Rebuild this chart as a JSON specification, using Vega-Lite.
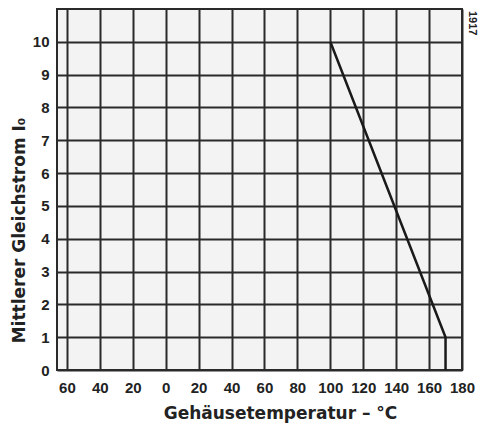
{
  "$schema": "https://vega.github.io/schema/vega-lite/v6.json",
  "width": 405,
  "height": 361,
  "autosize": {"type": "none"},
  "padding": {"left": 57, "top": 9, "right": 21, "bottom": 62},
  "background": "white",
  "config": {
    "view": {"fill": "#f3f3f3", "stroke": "#2a2a2a", "strokeWidth": 2},
    "axis": {
      "labelFont": "Liberation Sans",
      "titleFont": "DejaVu Sans",
      "labelFontWeight": "bold",
      "titleFontWeight": "bold",
      "labelColor": "#222",
      "titleColor": "#222",
      "labelFontSize": 15,
      "titleFontSize": 17,
      "labelOverlap": false,
      "labelBound": false,
      "labelFlush": false,
      "domain": false,
      "ticks": false,
      "gridColor": "#2a2a2a",
      "gridWidth": 2,
      "gridOpacity": 1
    }
  },
  "data": {
    "values": [
      {"t": 100, "i": 10},
      {"t": 170, "i": 1},
      {"t": 170, "i": 0}
    ]
  },
  "layer": [
    {
      "mark": {"type": "line", "color": "#1a1a1a", "strokeWidth": 2.5},
      "encoding": {
        "x": {
          "field": "t", "type": "quantitative",
          "scale": {"domain": [-66, 180], "nice": false, "zero": false},
          "axis": {
            "values": [-60, -40, -20, 0, 20, 40, 60, 80, 100, 120, 140, 160, 180],
            "tickCount": 13,
            "labelExpr": "abs(datum.value)",
            "labelPadding": 10,
            "labelFlush": false,
            "title": "Gehäusetemperatur – °C",
            "titlePadding": 10,
            "titleX": 223
          }
        },
        "y": {
          "field": "i", "type": "quantitative",
          "scale": {"domain": [0, 11], "nice": false},
          "axis": {
            "values": [0, 1, 2, 3, 4, 5, 6, 7, 8, 9, 10],
            "tickCount": 11,
            "labelPadding": 8,
            "title": "Mittlerer Gleichstrom I₀",
            "titlePadding": 4,
            "titleY": 221
          }
        }
      }
    },
    {
      "data": {"values": [{"t": 180, "i": 11, "label": "1917"}]},
      "mark": {"type": "text", "angle": 90, "fontSize": 11, "font": "Liberation Sans", "fontWeight": "bold", "color": "#222", "align": "left", "baseline": "middle", "dx": 2, "dy": -10},
      "encoding": {
        "x": {"field": "t", "type": "quantitative"},
        "y": {"field": "i", "type": "quantitative"},
        "text": {"field": "label"}
      }
    }
  ]
}
